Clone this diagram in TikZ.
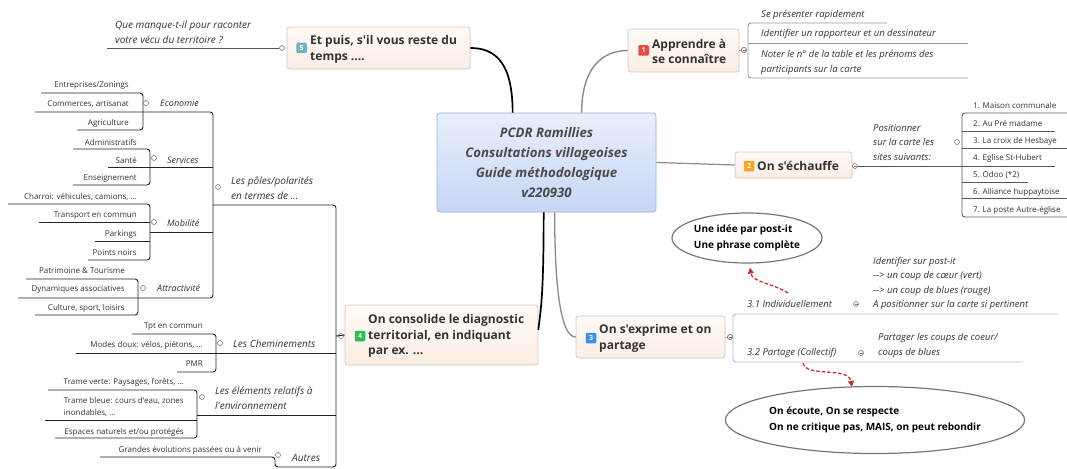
\documentclass[tikz,border=0pt]{standalone}
\usepackage{fontspec}
\setmainfont{Open Sans}[Ligatures=TeXOff]
\usetikzlibrary{shapes.geometric,arrows.meta}
\definecolor{txt}{HTML}{333333}
\definecolor{ctxt}{HTML}{4A4A4A}
\definecolor{boxtop}{HTML}{FEFAF6}
\definecolor{boxbot}{HTML}{FBEEE4}
\definecolor{boxline}{HTML}{D2C6BB}
\definecolor{ctop}{HTML}{E8EFFC}
\definecolor{cbot}{HTML}{C6D6F5}
\definecolor{cline}{HTML}{9DB1D6}
\definecolor{bred}{HTML}{E94B45}
\definecolor{borange}{HTML}{F6A623}
\definecolor{bblue}{HTML}{3D8FF0}
\definecolor{bgreen}{HTML}{22C24F}
\definecolor{bteal}{HTML}{74B3C2}
\definecolor{treecol}{HTML}{222222}
\definecolor{rgrayA}{HTML}{999999}
\definecolor{rgrayB}{HTML}{555555}
\definecolor{rgrayC}{HTML}{BBBBBB}
\definecolor{knobcol}{HTML}{777777}
\definecolor{ellline}{HTML}{777777}
\definecolor{linkred}{HTML}{C8322D}
\definecolor{conngray}{HTML}{8A8A8A}
\begin{document}
\begin{tikzpicture}[x=1pt,y=-1pt,
 item/.style={font=\fontsize{8}{10}\selectfont, text=txt, inner sep=0pt},
 lvlthree/.style={font=\fontsize{9}{11}\selectfont\itshape, text=txt, inner sep=0pt, anchor=west},
 lvltwo/.style={font=\fontsize{10}{15}\selectfont\itshape, text=txt, inner sep=0pt, anchor=west, align=left},
 rsub/.style={font=\fontsize{9.5}{14.5}\selectfont\itshape, text=txt, inner sep=0pt, anchor=west, align=left},
 mainbox/.style={draw=boxline, top color=boxtop, bottom color=boxbot, rounded corners=2.5pt, line width=0.7pt, inner sep=0pt},
 maintext/.style={font=\fontsize{12}{15.5}\selectfont\bfseries, text=txt, inner sep=0pt, anchor=west, align=left},
 badge/.style={rounded corners=1.2pt, minimum size=10.5pt, inner sep=0pt, text=white, font=\fontsize{7}{7}\selectfont\bfseries},
 treeline/.style={line width=0.9pt, draw=treecol, rounded corners=3pt},
 knob/.style={circle, draw=knobcol, fill=white, minimum size=5pt, inner sep=0pt, line width=0.6pt},
 knobm/.style={knob, path picture={\draw[knobcol, line width=0.5pt] ([xshift=-1.5pt]path picture bounding box.center) -- ([xshift=1.5pt]path picture bounding box.center);}},
 note/.style={ellipse, draw=ellline, line width=1.2pt, fill=white, inner sep=0pt, font=\fontsize{10}{15.5}\selectfont\bfseries, text=black, align=left},
 reflink/.style={draw=linkred, line width=1.3pt, dash pattern=on 3.5pt off 2pt, -{Triangle[length=6pt,width=6pt]}},
]
\useasboundingbox[fill=white] (0,0) rectangle (1067,468);

% ---------- main boxes ----------
\node[draw=cline, top color=ctop, bottom color=cbot, rounded corners=3pt, line width=0.7pt, minimum width=219pt, minimum height=99pt, inner sep=0pt] (c) at (546.5,162.5) {};
\node[font=\fontsize{13.2}{20}\selectfont\bfseries\itshape, text=ctxt, align=center, inner sep=0pt] (ct) at (546.5,163) {PCDR Ramillies\\Consultations villageoises\\Guide méthodologique\\v220930};

\node[mainbox, minimum width=183pt, minimum height=42pt] (n5) at (378.5,48) {};
\node[badge, fill=bteal] (b5) at (301.5,48) {5};
\node[maintext] (t5) at (310,49.5) {Et puis, s'il vous reste du\\temps ....};

\node[mainbox, minimum width=111pt, minimum height=43pt] (n1) at (683.5,50.5) {};
\node[badge, fill=bred] (b1) at (643.5,50.5) {1};
\node[maintext] (t1) at (652,51.5) {Apprendre à\\se connaître};

\node[mainbox, minimum width=117pt, minimum height=26pt] (n2) at (793.5,165) {};
\node[badge, fill=borange] (b2) at (749,166) {2};
\node[maintext] (t2) at (757,166) {On s'échauffe};

\node[mainbox, minimum width=149pt, minimum height=42pt] (n3) at (650.5,337) {};
\node[badge, fill=bblue] (b3) at (591,338) {3};
\node[maintext] (t3) at (599,338.5) {On s'exprime et on\\partage};

\node[mainbox, minimum width=193pt, minimum height=60pt] (n4) at (441.5,335) {};
\node[badge, fill=bgreen] (b4) at (360,336) {4};
\node[maintext] (t4) at (368,336) {On consolide le diagnostic\\territorial, en indiquant\\par ex. ...};

% ---------- main connectors ----------
\draw[black, line width=1.7pt] ([xshift=76pt]c.north west) .. controls +(0,-50) and +(25,0) .. (n5.east);
\draw[conngray, line width=1.4pt] ([xshift=145pt]c.north west) .. controls +(0,-45) and +(-25,0) .. (n1.west);
\draw[conngray, line width=1.2pt] (c.east) -- (n2.west);
\draw[conngray, line width=1.3pt] ([xshift=118pt]c.south west) .. controls +(0,75) and +(-15,0) .. (n3.west);
\draw[black, line width=1.7pt] ([xshift=107pt]c.south west) .. controls +(0,90) and +(2,-20) .. ([yshift=5pt]n4.east);

% ---------- node 5 branch ----------
\coordinate (q5) at (107,48);
\node[knob] (k5) at (282,48) {};
\draw[treeline, draw=rgrayB] (q5) -- (k5.west);
\node[rsub, font=\fontsize{10}{15}\selectfont\itshape] (s5) at (115,32.5) {Que manque-t-il pour raconter\\votre vécu du territoire ?};

% ---------- node 4 branch (left tree) ----------
\draw[treeline] (41,93) -- (143,93) -- (143,130) -- (77,130);
\draw[treeline] (35,112) -- (213,112) -- (213,298) -- (18,298);
\draw[treeline] (73,149) -- (150,149) -- (150,185) -- (73,185);
\draw[treeline] (108,167) -- (213,167);
\draw[treeline] (8,204) -- (150,204) -- (150,260) -- (88,260);
\draw[treeline] (39,222) -- (150,222);
\draw[treeline] (95,241) -- (150,241);
\draw[treeline] (150,232) -- (213,232);
\draw[treeline] (26,279) -- (138,279) -- (138,315) -- (35,315);
\draw[treeline] (213,205) -- (336,205) -- (336,467) -- (275,467) -- (275,457) -- (100,457);
\draw[treeline] (132,334) -- (216,334) -- (216,372) -- (177,372);
\draw[treeline] (76,353) -- (336,353);
\draw[treeline] (48,390) -- (197,390) -- (197,438) -- (55,438);
\draw[treeline] (45,420) -- (197,420);
\draw[treeline] (197,415) -- (336,415);
\coordinate (j4) at (336,336);
\node[knob] (k4) at (341,336) {};
\draw[treeline] (n4.west) -- (j4);

\node[item, anchor=east] (i1) at (129,86) {Entreprises/Zonings};
\node[item, anchor=east] (i2) at (129,104) {Commerces, artisanat};
\node[item, anchor=east] (i3) at (129,123) {Agriculture};
\node[item, anchor=east] (i4) at (137,142) {Administratifs};
\node[item, anchor=east] (i5) at (137,160) {Santé};
\node[item, anchor=east] (i6) at (137,179) {Enseignement};
\node[item, anchor=east] (i7) at (137,197) {Charroi: véhicules, camions, ...};
\node[item, anchor=east] (i8) at (137,216) {Transport en commun};
\node[item, anchor=east] (i9) at (137,234) {Parkings};
\node[item, anchor=east] (i10) at (137,253) {Points noirs};
\node[item, anchor=east] (i11) at (125,271) {Patrimoine \& Tourisme};
\node[item, anchor=east] (i12) at (125,290) {Dynamiques associatives};
\node[item, anchor=east] (i13) at (125,308) {Culture, sport, loisirs};
\node[item, anchor=east] (i14) at (203,327) {Tpt en commun};
\node[item, anchor=east] (i15) at (203,345) {Modes doux: vélos, piétons, ...};
\node[item, anchor=east] (i16) at (203,364) {PMR};
\node[item, anchor=east] (i17) at (184,382) {Trame verte: Paysages, forêts, ...};
\node[item, anchor=east, align=left, font=\fontsize{8}{11.5}\selectfont] (i18) at (184,407) {Trame bleue: cours d'eau, zones\\inondables, ...};
\node[item, anchor=east] (i19) at (184,432) {Espaces naturels et/ou protégés};
\node[item, anchor=east] (i20) at (262,450) {Grandes évolutions passées ou à venir};

\node[knob] (k31) at (146,103) {};
\node[lvlthree] (l31) at (160,103) {Economie};
\node[knob] (k32) at (154,158) {};
\node[lvlthree] (l32) at (167,160) {Services};
\node[knob] (k33) at (154,222) {};
\node[lvlthree] (l33) at (167,223) {Mobilité};
\node[knob] (k34) at (143,288) {};
\node[lvlthree] (l34) at (157,288) {Attractivité};

\node[knob] (k21) at (218,187) {};
\node[lvltwo] (l21) at (231,188.5) {Les pôles/polarités\\en termes de ...};
\node[knob] (k22) at (220,343) {};
\node[lvltwo] (l22) at (233,344) {Les Cheminements};
\node[knob] (k23) at (202,397) {};
\node[lvltwo] (l23) at (215,398) {Les éléments relatifs à\\l'environnement};
\node[knob] (k24) at (278,455) {};
\node[lvltwo] (l24) at (292,458) {Autres};

% ---------- node 1 branch ----------
\node[knobm] (k1) at (744,50) {};
\draw[treeline, draw=rgrayA] (n1.east) -- (k1.west);
\draw[treeline, draw=rgrayA] (887,23) -- (748,23) -- (748,78) -- (968,78);
\draw[treeline, draw=rgrayA] (748,43) -- (968,43);
\node[knobm] (k1b) at (744,50) {};
\node[rsub] (r11) at (761,15) {Se présenter rapidement};
\node[rsub] (r12) at (761,34) {Identifier un rapporteur et un dessinateur};
\node[rsub] (r13) at (761,62.5) {Noter le n° de la table et les prénoms des\\participants sur la carte};

% ---------- node 2 branch ----------
\node[knobm] (k2) at (855,166) {};
\coordinate (j2) at (962,166);
\draw[treeline, draw=rgrayB] (k2.east) -- (j2);
\draw[treeline, draw=rgrayB] (1067,113) -- (962,113) -- (962,217) -- (1067,217);
\draw[treeline, draw=rgrayB] (962,131) -- (1055,131);
\draw[treeline, draw=rgrayB] (962,148) -- (1067,148);
\draw[treeline, draw=rgrayB] (962,166) -- (1055,166);
\draw[treeline, draw=rgrayB] (962,182) -- (1028,182);
\draw[treeline, draw=rgrayB] (962,198) -- (1067,198);
\node[knob] (k2b) at (957,142) {};
\node[rsub] (r21) at (873,142.5) {Positionner\\sur la carte les\\sites suivants:};
\node[item, anchor=west] (p1) at (973,106) {1. Maison communale};
\node[item, anchor=west] (p2) at (973,123) {2. Au Pré madame};
\node[item, anchor=west] (p3) at (973,141) {3. La croix de Hesbaye};
\node[item, anchor=west] (p4) at (973,158) {4. Eglise St-Hubert};
\node[item, anchor=west] (p5) at (973,175) {5. Odoo (*2)};
\node[item, anchor=west] (p6) at (973,192) {6. Alliance huppaytoise};
\node[item, anchor=west] (p7) at (973,210) {7. La poste Autre-église};

% ---------- node 3 branch ----------
\node[knobm] (k3) at (730,337) {};
\draw[treeline, draw=rgrayC] (n3.east) -- (k3.west);
\draw[treeline, draw=rgrayC] (1058,314) -- (733,314) -- (733,362) -- (1023,362);
\node[knobm] (k3b) at (730,337) {};
\node[rsub] (r31) at (747,304) {3.1 Individuellement};
\node[knobm] (k31r) at (856,304) {};
\node[rsub, font=\fontsize{9.5}{14.3}\selectfont\itshape] (r31t) at (873,283.5) {Identifier sur post-it\\-{}-> un coup de cœur (vert)\\-{}-> un coup de blues (rouge)\\A positionner sur la carte si pertinent};
\node[rsub] (r32) at (747,353) {3.2 Partage (Collectif)};
\node[knobm] (k32r) at (861,353) {};
\node[rsub] (r32t) at (878,345.5) {Partager les coups de coeur/\\coups de blues};

% ---------- notes ----------
\node[note, minimum width=150pt, minimum height=50pt] (e1) at (747,238) {Une idée par post-it\\Une phrase complète};
\node[note, minimum width=273pt, minimum height=67pt] (e2) at (875,420) {On écoute, On se respecte\\On ne critique pas, MAIS, on peut rebondir};
\coordinate (s31) at (788,293);
\coordinate (s32) at (803,363);
\draw[reflink] (s31) .. controls (772,283) and (752,282) .. ([xshift=3pt,yshift=-4pt]e1.south);
\draw[reflink] (s32) .. controls (806,378) and (848,366) .. ([xshift=-23pt,yshift=-1pt]e2.north);
\end{tikzpicture}
\end{document}
